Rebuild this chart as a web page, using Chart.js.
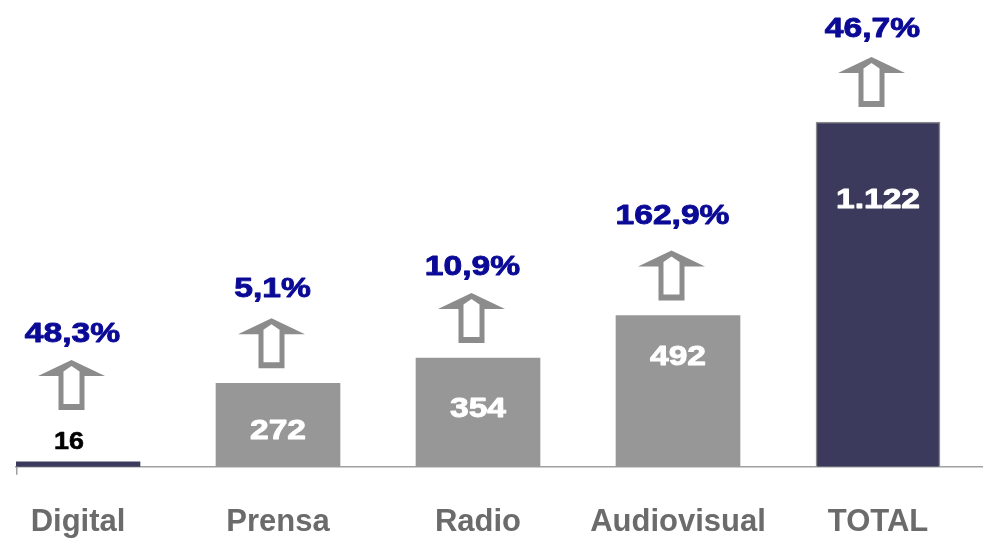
<!DOCTYPE html>
<html>
<head>
<meta charset="utf-8">
<script src="https://cdn.jsdelivr.net/npm/chart.js@4/dist/chart.umd.min.js"></script>
<style>
  html, body { margin: 0; padding: 0; background: #ffffff; }
  #wrap { width: 983px; height: 540px; }
</style>
</head>
<body>
<div id="wrap"><canvas id="c" width="983" height="540"></canvas></div>
<script>
// ---- data ----
const categories   = ['Digital', 'Prensa', 'Radio', 'Audiovisual', 'TOTAL'];
const values       = [16, 272, 354, 492, 1122];
const valueLabels  = ['16', '272', '354', '492', '1.122'];
const growthLabels = ['48,3%', '5,1%', '10,9%', '162,9%', '46,7%'];

// ---- styles ----
const NAVY = '#3b3a5c';
const GREY = '#979797';
const ARROW = '#8c8c8c';
const BLUE = '#0a0a96';
const FONT = '"Liberation Sans", Arial, Helvetica, sans-serif';

function stretchedText(ctx, text, x, capCenterY, size, color, sx, bolder) {
  ctx.save();
  ctx.font = 'bold ' + size + 'px ' + FONT;
  ctx.fillStyle = color;
  ctx.strokeStyle = color;
  ctx.lineWidth = bolder;
  ctx.lineJoin = 'round';
  ctx.textAlign = 'center';
  ctx.textBaseline = 'alphabetic';
  ctx.translate(x, capCenterY + size * 0.716 / 2);
  ctx.scale(sx, 1);
  ctx.fillText(text, 0, 0);
  if (bolder > 0) ctx.strokeText(text, 0, 0);
  ctx.restore();
}

function drawArrow(ctx, cx, T) {
  ctx.save();
  ctx.fillStyle = ARROW;
  ctx.beginPath();
  ctx.moveTo(cx, T);
  ctx.lineTo(cx + 33.5, T + 16);
  ctx.lineTo(cx + 13, T + 16);
  ctx.lineTo(cx + 13, T + 50);
  ctx.lineTo(cx - 13, T + 50);
  ctx.lineTo(cx - 13, T + 16);
  ctx.lineTo(cx - 33.5, T + 16);
  ctx.closePath();
  ctx.fill();
  ctx.fillStyle = '#ffffff';
  ctx.beginPath();
  ctx.moveTo(cx, T + 6);
  ctx.lineTo(cx + 8, T + 11.5);
  ctx.lineTo(cx + 8, T + 44);
  ctx.lineTo(cx - 8, T + 44);
  ctx.lineTo(cx - 8, T + 11.5);
  ctx.closePath();
  ctx.fill();
  ctx.restore();
}

const annotatePlugin = {
  id: 'annotate',
  afterDatasetsDraw(chart, args, opts) {
    const ctx = chart.ctx;
    const area = chart.chartArea;
    ctx.save();
    ctx.strokeStyle = '#a0a0a0';
    ctx.lineWidth = 1.5;
    ctx.beginPath();
    ctx.moveTo(area.left + 0.75, area.bottom);
    ctx.lineTo(area.left + 0.75, area.bottom + 8);
    ctx.stroke();
    ctx.restore();

    const meta = chart.getDatasetMeta(0);
    meta.data.forEach((bar, i) => {
      const cx = bar.x, top = bar.y, base = bar.base;
      let tip;
      if (base - top < 30) {
        stretchedText(ctx, valueLabels[i], cx - 9, top - 21.5, 24, '#000000', 1.12, 0.6);
        tip = top - 102;
      } else {
        stretchedText(ctx, valueLabels[i], cx, top + opts.inside[i], 28, '#ffffff', 1.2, 0.9);
        tip = top - 65;
      }
      const ax = cx + opts.shift;
      drawArrow(ctx, ax, tip);
      stretchedText(ctx, growthLabels[i], ax + 1, tip - opts.pctGap[i], 28, BLUE, 1.2, 0.9);
    });
  }
};

new Chart(document.getElementById('c'), {
  type: 'bar',
  data: {
    datasets: [{
      data: values.map((v, i) => ({ x: i, y: v })),
      backgroundColor: [NAVY, GREY, GREY, GREY, NAVY],
      borderColor: [NAVY, GREY, GREY, GREY, '#8a8a8a'],
      borderWidth: [0, 0, 0, 0, 1.5],
      barThickness: 124,
      borderSkipped: 'bottom'
    }]
  },
  options: {
    responsive: false,
    animation: false,
    events: [],
    layout: { padding: { left: 16, right: 0, top: 0, bottom: 2 } },
    plugins: {
      legend: { display: false },
      tooltip: { enabled: false },
      annotate: {
        inside: [0, 46, 49, 39, 75.5],
        pctGap: [28, 31, 28, 37, 30.5],
        shift: -6.5
      }
    },
    scales: {
      x: {
        type: 'linear',
        offset: false,
        min: -0.31,
        max: 4.525,
        afterBuildTicks: (scale) => { scale.ticks = categories.map((c, i) => ({ value: i })); },
        afterFit: (scale) => { scale.height = 71.2; scale.paddingLeft = 0; scale.paddingRight = 0; },
        grid: { display: false, drawTicks: false, offset: false },
        border: { display: true, color: '#a0a0a0', width: 1.5 },
        ticks: {
          autoSkip: false,
          maxRotation: 0,
          padding: 37,
          color: '#6b6b6b',
          font: { family: FONT, size: 31, weight: 'bold' },
          callback: (v) => categories[v] !== undefined ? categories[v] : ''
        }
      },
      y: {
        display: false,
        min: 0,
        max: 1519
      }
    }
  },
  plugins: [annotatePlugin]
});
</script>
</body>
</html>
